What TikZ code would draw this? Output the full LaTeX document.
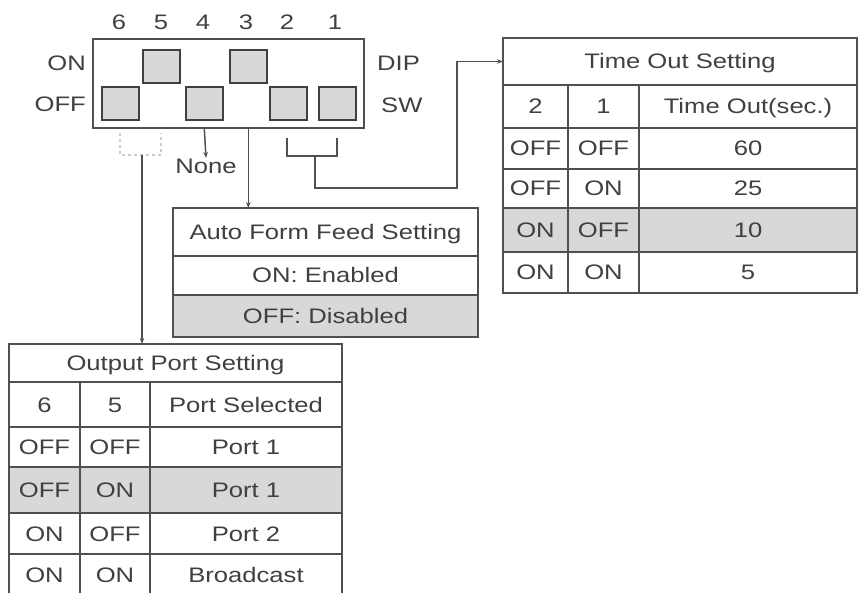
\documentclass[tikz,border=0pt]{standalone}
\usepackage{fontspec}
\setmainfont[FakeStretch=1.22]{Liberation Sans}
\usetikzlibrary{arrows.meta,calc}
\definecolor{ln}{HTML}{505050}
\definecolor{tx}{HTML}{404040}
\definecolor{sh}{HTML}{D8D8D8}
\begin{document}
\begin{tikzpicture}[x=1pt,y=-1pt,
  every node/.style={font=\fontsize{21}{25}\selectfont, text=tx},
  cell/.style={draw=ln, line width=1.5pt, anchor=north west, inner sep=0pt, outer sep=0pt, text height=15pt, text depth=0pt},
  shd/.style={fill=sh},
  swbox/.style={draw=ln!80!black, fill=sh, line width=1.6pt, anchor=north west, inner sep=0pt, minimum width=37pt, minimum height=33pt},
  arr/.style={draw=ln, line width=1.5pt, -{Stealth[length=6pt,width=4.5pt]}},
  conn/.style={draw=ln, line width=1.5pt},
  lbl/.style={inner sep=0pt, text height=15pt, text depth=0pt}]
\clip (0,0) rectangle (862,593);
\fill[white] (0,0) rectangle (862,593);

% DIP switch
\node[draw=ln, line width=1.6pt, anchor=north west, minimum width=271pt, minimum height=89pt, inner sep=0pt] (dip) at (92,38) {};
\node[swbox] (s6) at (101,86) {};
\node[swbox] (s5) at (142,49) {};
\node[swbox] (s4) at (185,86) {};
\node[swbox] (s3) at (229,49) {};
\node[swbox] (s2) at (269,86) {};
\node[swbox] (s1) at (318,86) {};
\node[lbl] (n6) at (119,22) {6};
\node[lbl] (n5) at (161,22) {5};
\node[lbl] (n4) at (203,22) {4};
\node[lbl] (n3) at (246,22) {3};
\node[lbl] (n2) at (287,22) {2};
\node[lbl] (n1) at (335,22) {1};
\node[lbl, anchor=east] (lon) at (86,63) {ON};
\node[lbl, anchor=east] (loff) at (86,104) {OFF};
\node[lbl, anchor=west] (ldip) at (377,63) {DIP};
\node[lbl, anchor=west] (lsw) at (381,105) {SW};

% brackets and connectors
\draw[line width=1.2pt, draw=gray!40, dashed] (120,133) -- (120,155) -- (161,155) -- (161,133);
\coordinate (b65) at (142,155);
\draw[conn] (287,138) -- (287,156) -- (337,156) -- (337,138);
\coordinate (b21) at (315,156);
\node[lbl, anchor=north] (none) at (206,158) {None};

% Time Out table
\node[cell, minimum width=354pt, minimum height=47pt] (tT) at (503,38) {Time Out Setting};
\node[cell, minimum width=65pt, minimum height=43pt] (th2) at (503,85) {2};
\node[cell, minimum width=71pt, minimum height=43pt] (th1) at (568,85) {1};
\node[cell, minimum width=218pt, minimum height=43pt] (thv) at (639,85) {Time Out(sec.)};
\node[cell, minimum width=65pt, minimum height=41pt] (ta2) at (503,128) {OFF};
\node[cell, minimum width=71pt, minimum height=41pt] (ta1) at (568,128) {OFF};
\node[cell, minimum width=218pt, minimum height=41pt] (tav) at (639,128) {60};
\node[cell, minimum width=65pt, minimum height=39pt] (tb2) at (503,169) {OFF};
\node[cell, minimum width=71pt, minimum height=39pt] (tb1) at (568,169) {ON};
\node[cell, minimum width=218pt, minimum height=39pt] (tbv) at (639,169) {25};
\node[cell, shd, minimum width=65pt, minimum height=44pt] (tc2) at (503,208) {ON};
\node[cell, shd, minimum width=71pt, minimum height=44pt] (tc1) at (568,208) {OFF};
\node[cell, shd, minimum width=218pt, minimum height=44pt] (tcv) at (639,208) {10};
\node[cell, minimum width=65pt, minimum height=41pt] (td2) at (503,252) {ON};
\node[cell, minimum width=71pt, minimum height=41pt] (td1) at (568,252) {ON};
\node[cell, minimum width=218pt, minimum height=41pt] (tdv) at (639,252) {5};

% Auto Form Feed table
\node[cell, minimum width=305pt, minimum height=48pt] (aT) at (173,208) {Auto Form Feed Setting};
\node[cell, minimum width=305pt, minimum height=39pt] (aon) at (173,256) {ON: Enabled};
\node[cell, shd, minimum width=305pt, minimum height=42pt] (aoff) at (173,295) {OFF: Disabled};

% Output Port table
\node[cell, minimum width=333pt, minimum height=38pt] (oT) at (9,344) {Output Port Setting};
\node[cell, minimum width=71pt, minimum height=45pt] (oh6) at (9,382) {6};
\node[cell, minimum width=70pt, minimum height=45pt] (oh5) at (80,382) {5};
\node[cell, minimum width=192pt, minimum height=45pt] (ohv) at (150,382) {Port Selected};
\node[cell, minimum width=71pt, minimum height=40pt] (oa6) at (9,427) {OFF};
\node[cell, minimum width=70pt, minimum height=40pt] (oa5) at (80,427) {OFF};
\node[cell, minimum width=192pt, minimum height=40pt] (oav) at (150,427) {Port 1};
\node[cell, shd, minimum width=71pt, minimum height=46pt] (ob6) at (9,467) {OFF};
\node[cell, shd, minimum width=70pt, minimum height=46pt] (ob5) at (80,467) {ON};
\node[cell, shd, minimum width=192pt, minimum height=46pt] (obv) at (150,467) {Port 1};
\node[cell, minimum width=71pt, minimum height=41pt] (oc6) at (9,513) {ON};
\node[cell, minimum width=70pt, minimum height=41pt] (oc5) at (80,513) {OFF};
\node[cell, minimum width=192pt, minimum height=41pt] (ocv) at (150,513) {Port 2};
\node[cell, minimum width=71pt, minimum height=41pt] (od6) at (9,554) {ON};
\node[cell, minimum width=70pt, minimum height=41pt] (od5) at (80,554) {ON};
\node[cell, minimum width=192pt, minimum height=41pt] (odv) at (150,554) {Broadcast};
\draw[draw=white, line width=3pt] (0,596) -- (862,596);

% connectors
\draw[arr] (s4.south |- dip.south) -- (none.north);
\draw[arr] (s3.south |- dip.south) -- (s3.south |- aT.north);
\draw[arr] (b65) -- (b65 |- oT.north);
\draw[arr] (b21) -- ++(0,32) -| ($(tT.west)+(-46,0)$) -- (tT.west);
\end{tikzpicture}
\end{document}
